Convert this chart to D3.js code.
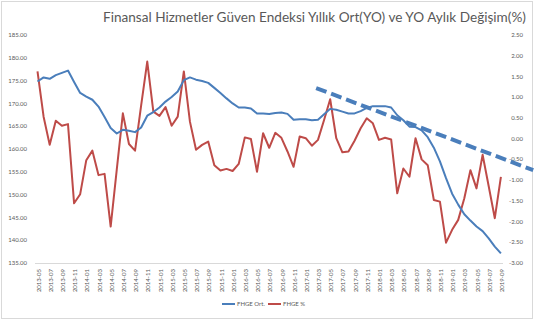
<!DOCTYPE html>
<html>
<head>
<meta charset="utf-8">
<script src="https://cdn.jsdelivr.net/npm/d3@7"></script>
<style>
  body { margin: 0; background: #fff; }
  text { font-family: Lato, "Open Sans", sans-serif; fill: #595959; }
</style>
</head>
<body>
<div id="my_dataviz"></div>
<script>
// months 2013-05 .. 2019-09
const months = [
  "2013-05","2013-06","2013-07","2013-08","2013-09","2013-10","2013-11","2013-12",
  "2014-01","2014-02","2014-03","2014-04","2014-05","2014-06","2014-07","2014-08","2014-09","2014-10","2014-11","2014-12",
  "2015-01","2015-02","2015-03","2015-04","2015-05","2015-06","2015-07","2015-08","2015-09","2015-10","2015-11","2015-12",
  "2016-01","2016-02","2016-03","2016-04","2016-05","2016-06","2016-07","2016-08","2016-09","2016-10","2016-11","2016-12",
  "2017-01","2017-02","2017-03","2017-04","2017-05","2017-06","2017-07","2017-08","2017-09","2017-10","2017-11","2017-12",
  "2018-01","2018-02","2018-03","2018-04","2018-05","2018-06","2018-07","2018-08","2018-09","2018-10","2018-11","2018-12",
  "2019-01","2019-02","2019-03","2019-04","2019-05","2019-06","2019-07","2019-08","2019-09"
];

// FHGE yillik ortalama (left axis)
const fhgeOrt = [
  174.8,175.7,175.4,176.2,176.7,177.2,174.7,172.3,
  171.5,170.8,169.3,167.0,164.6,163.4,164.2,164.0,163.7,164.7,167.3,168.1,
  169.1,170.4,171.4,172.6,175.1,175.7,175.2,174.9,174.5,173.4,172.3,171.1,
  170.0,169.1,169.1,168.9,167.8,167.8,167.7,167.9,168.0,167.7,166.4,166.5,
  166.5,166.3,166.4,167.6,168.8,168.6,168.2,167.8,167.8,168.3,169.0,169.4,
  169.4,169.4,169.1,167.4,166.3,164.9,164.8,164.1,162.6,160.3,157.3,153.6,
  150.2,147.8,145.7,144.3,143.0,142.0,140.4,138.6,137.1
];

// FHGE % aylik degisim (right axis)
const fhgePct = [
  1.62,0.53,-0.15,0.43,0.31,0.35,-1.56,-1.34,
  -0.52,-0.29,-0.88,-0.85,-2.12,-0.75,0.61,-0.13,-0.29,0.80,1.86,0.65,
  0.55,0.76,0.31,0.53,1.62,0.41,-0.27,-0.15,-0.07,-0.64,-0.77,-0.73,
  -0.78,-0.61,0.03,-0.01,-0.80,0.13,-0.22,0.14,0.02,-0.31,-0.68,0.05,
  0.01,-0.17,-0.03,0.45,0.95,0.01,-0.33,-0.31,-0.05,0.25,0.49,0.37,
  -0.03,0.02,-0.02,-1.32,-0.72,-0.92,0.01,-0.50,-0.64,-1.48,-1.52,-2.51,
  -2.20,-1.96,-1.44,-0.76,-1.20,-0.39,-1.15,-1.92,-0.92
];

// hand drawn trend (month index, right axis value)
const trendIdx = [45.7, 81.3];
const trendVal = [1.22, -0.76];

const leftTicks = [135,140,145,150,155,160,165,170,175,180,185];
const rightTicks = [-3,-2.5,-2,-1.5,-1,-0.5,0,0.5,1,1.5,2,2.5];

const W = 535, H = 321;

const svg = d3.select("#my_dataviz")
  .append("svg")
  .attr("width", W)
  .attr("height", H);

// chart border
svg.append("rect")
  .attr("x", 1.5).attr("y", 1.5)
  .attr("width", W - 4).attr("height", H - 4)
  .attr("fill", "#fff")
  .attr("stroke", "#d9d9d9");

const x = d3.scaleLinear()
  .domain([0, months.length - 1])
  .range([37.5, 500.9]);

const yL = d3.scaleLinear().domain([135, 185]).range([263, 35]);
const yR = d3.scaleLinear().domain([-3, 2.5]).range([263, 35]);

// title
svg.append("text")
  .attr("x", 103)
  .attr("y", 22)
  .style("font-size", "13.6px")
  .text("Finansal Hizmetler Güven Endeksi Yıllık Ort(YO)  ve YO Aylık Değişim(%)");

// left axis labels
svg.append("g")
  .selectAll("text")
  .data(leftTicks)
  .enter()
  .append("text")
  .attr("x", 27)
  .attr("y", d => yL(d))
  .attr("dy", "0.35em")
  .attr("text-anchor", "end")
  .style("font-size", "6px")
  .text(d => d.toFixed(2));

// right axis labels
svg.append("g")
  .selectAll("text")
  .data(rightTicks)
  .enter()
  .append("text")
  .attr("x", 523)
  .attr("y", d => yR(d))
  .attr("dy", "0.35em")
  .attr("text-anchor", "end")
  .style("font-size", "6px")
  .text(d => d.toFixed(2));

// x baseline
svg.append("line")
  .attr("x1", 35).attr("x2", 503)
  .attr("y1", 263.5).attr("y2", 263.5)
  .attr("stroke", "#d9d9d9");

// x labels every 2 months
svg.append("g")
  .selectAll("text")
  .data(months.filter((d, i) => i % 2 == 0))
  .enter()
  .append("text")
  .attr("transform", d => "translate(" + (x(months.indexOf(d)) + 1) + ",269)rotate(-90)")
  .attr("dy", "0.35em")
  .attr("text-anchor", "end")
  .style("font-size", "6px")
  .text(d => d);

// lines
const lineOrt = d3.line()
  .x((d, i) => x(i))
  .y(d => yL(d));

const linePct = d3.line()
  .x((d, i) => x(i))
  .y(d => yR(d));

svg.append("path")
  .datum(fhgePct)
  .attr("d", linePct)
  .attr("fill", "none")
  .attr("stroke", "#be4b48")
  .attr("stroke-width", 2)
  .attr("stroke-linejoin", "round");

svg.append("path")
  .datum(fhgeOrt)
  .attr("d", lineOrt)
  .attr("fill", "none")
  .attr("stroke", "#4a7ebb")
  .attr("stroke-width", 2)
  .attr("stroke-linejoin", "round");

// trend
svg.append("line")
  .attr("x1", x(trendIdx[0])).attr("y1", yR(trendVal[0]))
  .attr("x2", x(trendIdx[1])).attr("y2", yR(trendVal[1]))
  .attr("stroke", "#4a7ebb")
  .attr("stroke-width", 4)
  .attr("stroke-dasharray", "11,5");

// legend
const legend = [
  { name: "FHGE Ort.", color: "#4a7ebb", x: 222 },
  { name: "FHGE %", color: "#be4b48", x: 268 }
];
const lg = svg.append("g").selectAll("g")
  .data(legend)
  .enter()
  .append("g")
  .attr("transform", d => "translate(" + d.x + ",304)");
lg.append("line")
  .attr("x1", 0).attr("x2", 13)
  .attr("stroke", d => d.color)
  .attr("stroke-width", 2);
lg.append("text")
  .attr("x", 15)
  .attr("dy", "0.35em")
  .style("font-size", "6px")
  .text(d => d.name);
</script>
</body>
</html>
